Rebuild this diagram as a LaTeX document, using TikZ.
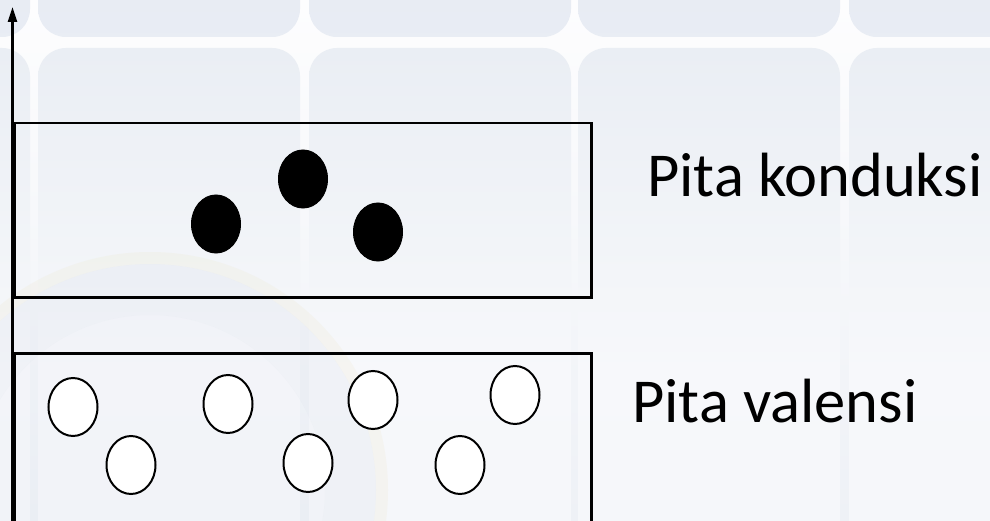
\documentclass[tikz,border=0pt]{standalone}
\usepackage{fontspec}
\setmainfont{Carlito}
\usetikzlibrary{shapes.geometric,arrows.meta}
\definecolor{tileA}{HTML}{E3E8F1}
\definecolor{tileB}{HTML}{EAEEF4}
\definecolor{bgtop}{HTML}{FDFDFE}
\definecolor{bgbot}{HTML}{EEF1F6}
\definecolor{sealblue}{HTML}{9AA8C8}
\definecolor{sealgold}{HTML}{E8D89A}
\tikzset{
  tile/.style={rounded corners=28pt},
  band/.style={draw=black, line width=2.5pt, fill=none},
  electron/.style={ellipse, fill=black, draw=black, line width=1pt, minimum width=49pt, minimum height=58pt, inner sep=0pt},
  hole/.style={ellipse, fill=white, draw=black, line width=2pt, minimum width=49pt, minimum height=58pt, inner sep=0pt},
  bandlabel/.style={anchor=base west, inner sep=0pt, font=\fontsize{62.5}{70}\selectfont, text=black}
}
\begin{document}
\begin{tikzpicture}[x=1pt,y=-1pt]
\useasboundingbox (0,0) rectangle (990,521);
\begin{scope}
\clip (0,0) rectangle (990,521);
\shade[top color=bgtop, bottom color=bgbot] (0,0) rectangle (990,521);
% background tiles
\foreach \xa in {-232,38,309,578,849}{
  \pgfmathsetmacro{\xb}{\xa+262}
  \shade[tile, top color=tileA, bottom color=tileA!80!white] (\xa,-200) rectangle (\xb,37);
  \shade[tile, top color=tileB, bottom color=bgbot!70!white, middle color=bgtop!60!bgbot] (\xa,48) rectangle (\xb,700);
}
% faint seal watermark
\fill[sealgold, opacity=0.10, even odd rule] (150,490) circle[radius=238] (150,490) circle[radius=226];
\fill[sealblue, opacity=0.07, even odd rule] (150,490) circle[radius=226] (150,490) circle[radius=175];
\fill[sealblue, opacity=0.04] (150,490) circle[radius=175];
\end{scope}
% bands
\node[band, draw, minimum width=577pt, minimum height=174pt, anchor=north west, inner sep=0pt] (cb) at (13,122) {};
\node[band, draw, minimum width=577pt, minimum height=180pt, anchor=north west, inner sep=0pt] (vb) at (13,352) {};
% axis
\coordinate (axbot) at (12.5,530);
\coordinate (axtop) at (12.5,7);
\draw[line width=2.6pt, -{Triangle[length=15pt,width=9pt]}] (axbot) -- (axtop);
% electrons in conduction band
\node[electron] (e1) at (216,224) {};
\node[electron] (e2) at (303,179) {};
\node[electron] (e3) at (378,232) {};
% holes in valence band
\node[hole] (h1) at (73,407) {};
\node[hole] (h2) at (228,404) {};
\node[hole] (h3) at (373,400) {};
\node[hole] (h4) at (515,395) {};
\node[hole] (h5) at (131,465) {};
\node[hole] (h6) at (308,463) {};
\node[hole] (h7) at (460,465) {};
% labels
\node[bandlabel] (lc) at (647,197) {Pita konduksi};
\node[bandlabel] (lv) at (632,422) {Pita valensi};
\end{tikzpicture}
\end{document}
